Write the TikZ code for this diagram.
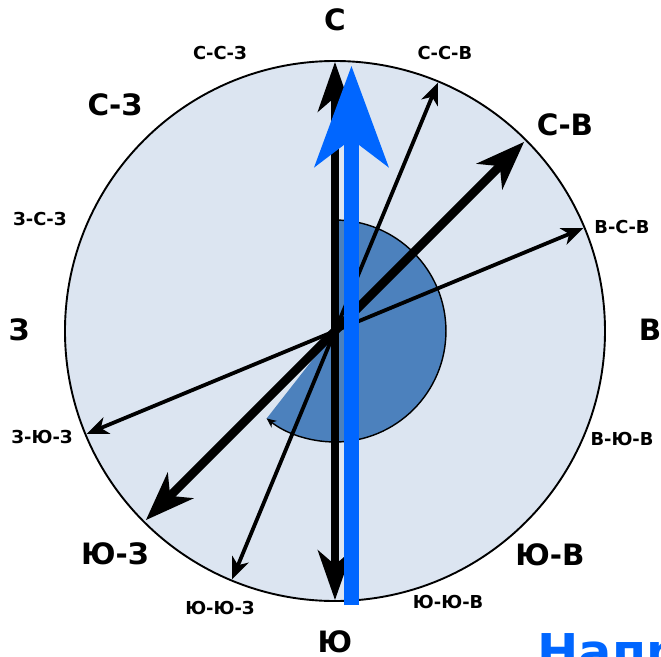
\documentclass[tikz,border=0pt]{standalone}
\usepackage{fontspec}
\setmainfont{DejaVu Sans}
\usetikzlibrary{arrows.meta}

\definecolor{dialfill}{RGB}{220,229,241}
\definecolor{sectorblue}{RGB}{76,129,189}
\definecolor{needleblue}{RGB}{0,102,255}

\begin{document}
\begin{tikzpicture}[
    thinarrow/.style={line width=4pt, -{Stealth[length=23pt, width=19pt, inset=7pt, line width=0pt]}},
    thickarrow/.style={line width=9pt, -{Stealth[length=52pt, width=39pt, inset=16pt, line width=0pt]}},
    axisarrow/.style={line width=8pt, -{Stealth[length=53pt, width=37pt, inset=16pt, line width=0pt]}},
    needle/.style={needleblue, line width=15pt, -{Stealth[length=107pt, width=79pt, inset=30pt, line width=0pt]}},
    biglabel/.style={inner sep=0pt, font=\fontsize{31}{33}\selectfont\bfseries},
    smalllabel/.style={inner sep=0pt, font=\fontsize{18.8}{20}\selectfont\bfseries}
]
    \useasboundingbox (-12.407,-12.037) rectangle (12.074,12.259);

    % Dial
    \coordinate (O) at (0,0);
    \filldraw[fill=dialfill, line width=2pt] (O) circle (10);

    % Turned angle
    \fill[sectorblue] (O) -- (90:4.11) arc[start angle=90, end angle=-128, radius=4.11] -- cycle;
    \draw[line width=1.5pt, -{Stealth[length=10pt, width=9pt, inset=3pt, line width=0pt]}]
        (90:4.11) arc[start angle=90, end angle=-128, radius=4.11];

    % Points on the rim
    \coordinate (n) at (90:9.96);
    \coordinate (s) at (-90:9.96);
    \coordinate (ne) at (45:9.9);
    \coordinate (sw) at (225:9.9);
    \coordinate (nne) at (67.5:9.95);
    \coordinate (ene) at (22.5:9.95);
    \coordinate (wsw) at (202.5:9.95);
    \coordinate (ssw) at (247.5:9.95);

    % Arrows
    \draw[thinarrow] (O) -- (nne);
    \draw[thinarrow] (O) -- (ene);
    \draw[thinarrow] (O) -- (wsw);
    \draw[thinarrow] (O) -- (ssw);
    \draw[thickarrow] (O) -- (ne);
    \draw[thickarrow] (O) -- (sw);
    \draw[axisarrow] (O) -- (n);
    \draw[axisarrow] (O) -- (s);

    % Needle
    \coordinate (tail) at (0.61,-10.15);
    \coordinate (head) at (0.61,9.81);
    \draw[needle] (tail) -- (head);

    % Labels
    \node[biglabel] (lN) at (0,11.52) {С};
    \node[biglabel] (lS) at (0,-11.5) {Ю};
    \node[biglabel] (lW) at (-11.7,0.04) {З};
    \node[biglabel] (lE) at (11.67,0.04) {В};
    \node[biglabel] (lNW) at (-8.15,8.37) {С-З};
    \node[biglabel] (lNE) at (8.52,7.63) {С-В};
    \node[biglabel] (lSW) at (-8.15,-8.26) {Ю-З};
    \node[biglabel] (lSE) at (7.96,-8.3) {Ю-В};
    \node[smalllabel] (lNNW) at (-4.26,10.3) {С-С-З};
    \node[smalllabel] (lNNE) at (4.07,10.3) {С-С-В};
    \node[smalllabel] (lWNW) at (-10.93,4.15) {З-С-З};
    \node[smalllabel] (lENE) at (10.63,3.85) {В-С-В};
    \node[smalllabel] (lWSW) at (-10.85,-3.93) {З-Ю-З};
    \node[smalllabel] (lESE) at (10.63,-4.0) {В-Ю-В};
    \node[smalllabel] (lSSW) at (-4.26,-10.26) {Ю-Ю-З};
    \node[smalllabel] (lSSE) at (4.19,-10.04) {Ю-Ю-В};

    % Cut-off title
    \begin{scope}
        \clip (-12.407,-12.037) rectangle (12.074,12.259);
        \node[anchor=base west, inner sep=0pt, needleblue, font=\fontsize{52}{56}\selectfont\bfseries] (title) at (7.5,-12.52) {Напр};
    \end{scope}
\end{tikzpicture}
\end{document}
